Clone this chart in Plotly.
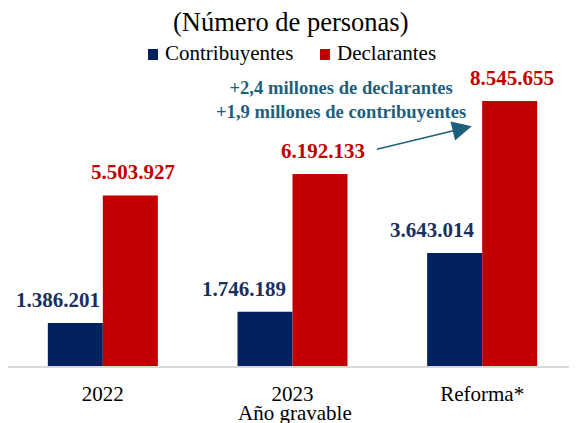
import plotly.graph_objects as go

categories = ["2022", "2023", "Reforma*"]
contribuyentes = [1386201, 1746189, 3643014]
declarantes = [5503927, 6192133, 8545655]
series_names = ["Contribuyentes", "Declarantes"]

def fmt(v):
    return f"{v:,}".replace(",", ".")

NAVY = "#002060"
RED = "#C00000"
NAVY_TXT = "#17305F"
TEAL = "#1F5F7E"
FONT = "Liberation Serif"

W, H = 569, 415
L, T, PH = 0, 48, 310
B = H - T - PH

def px(x):
    return (x - L) / (W - L)

def py(y):
    return (T + PH - y) / PH

fig = go.Figure()
fig.add_trace(go.Bar(name=series_names[0], x=categories, y=contribuyentes,
                     marker=dict(color=NAVY, line=dict(width=0))))
fig.add_trace(go.Bar(name=series_names[1], x=categories, y=declarantes,
                     marker=dict(color=RED, line=dict(width=0))))

# label horizontal offsets (pixels, relative to category centre)
c_shift = [-45, -49, -50]
d_shift = [30, 30, 30]

ann = []
for i, c in enumerate(categories):
    ann.append(dict(x=i, y=contribuyentes[i], xref="x", yref="y", text=f"<b>{fmt(contribuyentes[i])}</b>",
                    showarrow=False, xshift=c_shift[i], yshift=23, yanchor="middle",
                    font=dict(family=FONT, size=21, color=NAVY_TXT)))
    ann.append(dict(x=i, y=declarantes[i], xref="x", yref="y", text=f"<b>{fmt(declarantes[i])}</b>",
                    showarrow=False, xshift=d_shift[i], yshift=23, yanchor="middle",
                    font=dict(family=FONT, size=21, color=RED)))

# arrow
ann.append(dict(x=1.945, y=7.73e6, ax=1.437, ay=6.98e6, xref="x", yref="y", axref="x", ayref="y",
                text="", showarrow=True, arrowhead=2, arrowsize=2.6, arrowwidth=1.5, arrowcolor=TEAL))
# annotation text
ann.append(dict(x=1.254, y=8.6e6, xref="x", yref="y", showarrow=False,
                text="<b>+2,4 millones de declarantes<br>+1,9 millones de contribuyentes</b>",
                align="center", yanchor="middle",
                font=dict(family=FONT, size=18.6, color=TEAL)))
# subtitle
ann.append(dict(x=px(282), y=py(14), xref="paper", yref="paper", showarrow=False,
                text="(Número de personas)", yanchor="middle",
                font=dict(family=FONT, size=26.5, color="#000000")))
# axis title
ann.append(dict(x=px(287), y=py(405), xref="paper", yref="paper", showarrow=False,
                text="Año gravable", yanchor="middle",
                font=dict(family=FONT, size=21, color="#000000")))

# manual legend
leg_marker_x = [140, 312]
leg_colors = [NAVY, RED]
shapes = []
for name, mx, col in zip(series_names, leg_marker_x, leg_colors):
    shapes.append(dict(type="rect", xref="paper", yref="paper",
                       x0=px(mx), x1=px(mx + 10), y0=py(52), y1=py(41),
                       fillcolor=col, line=dict(width=0)))
    ann.append(dict(x=px(mx + 15), y=py(45), xref="paper", yref="paper", showarrow=False,
                    text=name, xanchor="left", yanchor="middle",
                    font=dict(family=FONT, size=21, color="#000000")))

fig.update_layout(
    width=W, height=H,
    margin=dict(l=L, r=0, t=T, b=B),
    paper_bgcolor="white", plot_bgcolor="white",
    barmode="group", bargap=0.42, bargroupgap=0,
    font=dict(family=FONT, size=21, color="#000000"),
    showlegend=False,
    annotations=ann,
    shapes=shapes,
    xaxis=dict(type="category", range=[-0.5, 2.5], showline=True, linecolor="#D9D9D9", linewidth=1.5,
               showgrid=False, ticks="", ticklabelstandoff=8,
               tickfont=dict(family=FONT, size=21, color="#000000")),
    yaxis=dict(range=[0, 10.0e6], visible=False, showgrid=False),
)

fig.write_html("out.html")
